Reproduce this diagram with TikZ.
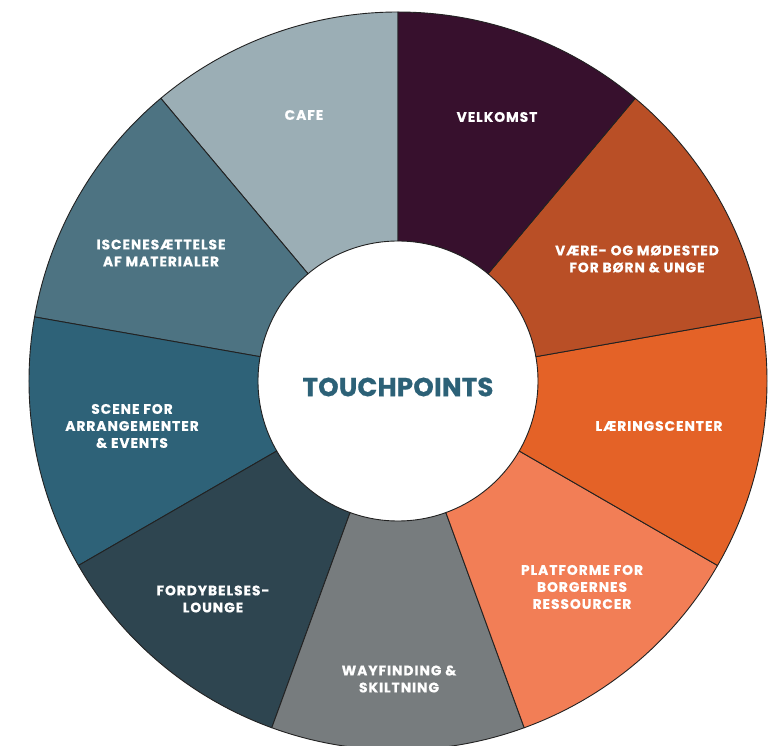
\documentclass[tikz,border=0pt]{standalone}
\usepackage{fontspec}
\newfontfamily\labfont{Poppins}[LetterSpace=7, FakeBold=0.6]
\newfontfamily\titlefont{Poppins}[LetterSpace=1, FakeBold=0.8]
\definecolor{cCafe}{HTML}{9BAEB5}
\definecolor{cIscene}{HTML}{4D7382}
\definecolor{cScene}{HTML}{2E6278}
\definecolor{cFordyb}{HTML}{2E4550}
\definecolor{cWay}{HTML}{777C7E}
\definecolor{cPlat}{HTML}{F27E56}
\definecolor{cLaer}{HTML}{E46227}
\definecolor{cVaere}{HTML}{B94F26}
\definecolor{cVelk}{HTML}{37102D}
\definecolor{cTitle}{HTML}{2C6177}
\definecolor{cLine}{HTML}{222222}
\tikzset{
  seglab/.style={text=white, align=center, font=\labfont\bfseries\fontsize{13.8}{17}\selectfont},
  segline/.style={draw=cLine, line width=0.9pt, line join=round},
}
\newcommand{\Rout}{369}
\newcommand{\Rin}{140}
\newcommand{\segment}[3]{%
  \filldraw[segline, fill=#3] (#1:\Rout) arc[start angle=#1, end angle=#2, radius=\Rout]
    -- (#2:\Rin) arc[start angle=#2, end angle=#1, radius=\Rin] -- cycle;}
\begin{document}
\begin{tikzpicture}[x=1pt,y=1pt]
\useasboundingbox (-398,-365) rectangle (376,381);
\fill[white] (-398,-365) rectangle (376,381);
\segment{90}{130}{cCafe}
\segment{130}{170}{cIscene}
\segment{170}{210}{cScene}
\segment{210}{250}{cFordyb}
\segment{250}{290}{cWay}
\segment{290}{330}{cPlat}
\segment{330}{370}{cLaer}
\segment{10}{50}{cVaere}
\segment{50}{90}{cVelk}
\node[seglab] (cafe) at (-94,266) {CAFE};
\node[seglab] (iscene) at (-237,128) {ISCENESÆTTELSE\\AF MATERIALER};
\node[seglab] (velk) at (99,264) {VELKOMST};
\node[seglab] (vaere) at (239,122) {VÆRE- OG MØDESTED\\FOR BØRN \& UNGE};
\node[seglab] (laer) at (261,-45) {LÆRINGSCENTER};
\node[seglab] (plat) at (184,-206) {PLATFORME FOR\\BORGERNES\\RESSOURCER};
\node[seglab] (way) at (1,-298) {WAYFINDING \&\\SKILTNING};
\node[seglab] (fordyb) at (-185,-218) {FORDYBELSES-\\LOUNGE};
\node[seglab] (scene) at (-266,-45) {SCENE FOR\\ARRANGEMENTER\\\& EVENTS};
\node[text=cTitle, font=\titlefont\bfseries\fontsize{26}{30}\selectfont] (title) at (0,-6) {TOUCHPOINTS};
\end{tikzpicture}
\end{document}
